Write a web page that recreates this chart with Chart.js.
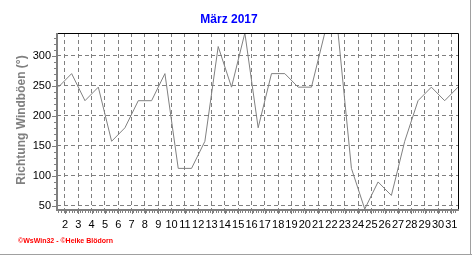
<!DOCTYPE html>
<html>
<head>
<meta charset="utf-8">
<script src="https://cdn.jsdelivr.net/npm/chart.js@4"></script>
<style>
  html, body { margin: 0; padding: 0; background: #fff; }
  #wrap { position: relative; width: 472px; height: 255px; }
</style>
</head>
<body>
<div id="wrap"><canvas id="chart" width="472" height="255"></canvas></div>
<script>
// Tage im März und Richtung der Windböen (Grad)
const days = [1, 2, 3, 4, 5, 6, 7, 8, 9, 10, 11, 12, 13, 14, 15, 16,
              17, 18, 19, 20, 21, 22, 23, 24, 25, 26, 27, 28, 29, 30, 31];
const direction = [247.5, 270, 225, 247.5, 157.5, 180, 225, 225, 270, 112.5, 112.5, 157.5, 315, 247.5, 337.5, 180,
                   270, 270, 247.5, 247.5, 337.5, 337.5, 112.5, 45, 90, 67.5, 157.5, 225, 247.5, 225, 247.5];
const yTicks = [50, 100, 150, 200, 250, 300];
const xTickLabels = ['2', '3', '4', '5', '6', '7', '8', '9', '10', '11', '12', '13', '14', '15', '16',
                     '17', '18', '19', '20', '21', '22', '23', '24', '25', '26', '27', '28', '29', '30', '31'];

const titleText = 'März 2017';
const yTitle = 'Richtung Windböen (°)';
const footer = '©WsWin32 - ©Heike Blödorn';

// Rahmen, Achsen, Nebenstriche und Texte
const decor = {
    id: 'decor',
    beforeDraw(chart) {
        const ctx = chart.ctx;
        ctx.save();
        ctx.strokeStyle = '#a0a0a0';
        ctx.lineWidth = 1;
        ctx.beginPath();
        ctx.moveTo(470.5, 0); ctx.lineTo(470.5, 255);
        ctx.moveTo(0, 254.5); ctx.lineTo(472, 254.5);
        ctx.stroke();
        ctx.restore();
    },
    afterDraw(chart) {
        const ctx = chart.ctx;
        const a = chart.chartArea;
        const x = chart.scales.x, y = chart.scales.y;
        ctx.save();
        // oben / rechts schwarz
        ctx.strokeStyle = '#000';
        ctx.lineWidth = 1;
        ctx.beginPath();
        ctx.moveTo(a.left, a.top + 0.5); ctx.lineTo(a.right + 0.5, a.top + 0.5);
        ctx.lineTo(a.right + 0.5, a.bottom);
        ctx.stroke();
        // Nebenstriche
        ctx.strokeStyle = '#808080';
        ctx.beginPath();
        for (let v = 50; v <= 330; v += 10) {
            const py = Math.round(y.getPixelForValue(v)) + 0.5;
            const len = yTicks.includes(v) ? 4 : 2;
            ctx.moveTo(a.left - len - 1, py); ctx.lineTo(a.left, py);
        }
        for (let d = 1; d <= 31; d += 0.2) {
            const px = Math.round(x.getPixelForValue(d)) + 0.5;
            if (px > a.right) break;
            ctx.moveTo(px, a.bottom); ctx.lineTo(px, a.bottom + 4);
        }
        for (let i = 0; i < xTickLabels.length; i++) {
            const px = Math.round(x.getPixelForValue(days[i] + 0.5)) + 0.5;
            ctx.moveTo(px, a.bottom); ctx.lineTo(px, a.bottom + 5);
        }
        ctx.stroke();
        // dicke graue Achsen links / unten
        ctx.lineWidth = 2;
        ctx.beginPath();
        ctx.moveTo(a.left, a.top); ctx.lineTo(a.left, a.bottom + 1);
        ctx.lineTo(a.right + 1, a.bottom + 1);
        ctx.stroke();
        // y-Titel
        ctx.fillStyle = '#808080';
        ctx.font = 'bold 12px "Liberation Sans", Arial, sans-serif';
        ctx.textAlign = 'center';
        ctx.textBaseline = 'middle';
        ctx.translate(22, 120);
        ctx.rotate(-Math.PI / 2);
        ctx.fillText(yTitle, 0, 0);
        ctx.setTransform(1, 0, 0, 1, 0, 0);
        // Fußzeile
        ctx.fillStyle = '#ff0000';
        ctx.font = 'bold 7px "Liberation Sans", Arial, sans-serif';
        ctx.textAlign = 'left';
        ctx.textBaseline = 'alphabetic';
        ctx.fillText(footer, 18, 243);
        ctx.restore();
    }
};

new Chart(document.getElementById('chart'), {
    type: 'line',
    data: {
        datasets: [{
            data: days.map((d, i) => ({ x: d, y: direction[i] })),
            borderColor: '#808080',
            borderWidth: 1,
            pointRadius: 0,
            tension: 0,
            fill: false
        }]
    },
    options: {
        responsive: false,
        animation: false,
        layout: { padding: { left: 0, right: 14, top: 0, bottom: 0 } },
        plugins: {
            legend: { display: false },
            tooltip: { enabled: false },
            title: {
                display: true,
                text: titleText,
                color: '#0000ff',
                font: { family: '"Liberation Sans", Arial, sans-serif', size: 12, weight: 'bold' },
                padding: { top: 12, bottom: 6.6 }
            }
        },
        scales: {
            x: {
                type: 'linear',
                min: 0.9,
                max: 31,
                afterBuildTicks: s => { s.ticks = xTickLabels.map((l, i) => ({ value: days[i] + 0.5 })); },
                afterFit: s => { s.height = 46; },
                grid: { color: '#808080', lineWidth: 1, drawTicks: false },
                border: { display: false, dash: [4, 3] },
                ticks: {
                    autoSkip: false,
                    maxRotation: 0,
                    padding: 9,
                    color: '#000',
                    font: { family: '"Liberation Sans", Arial, sans-serif', size: 11 },
                    callback: (v, i) => xTickLabels[i]
                }
            },
            y: {
                min: 45,
                max: 337.5,
                afterBuildTicks: s => { s.ticks = yTicks.map(v => ({ value: v })); },
                afterFit: s => { s.width = 57; },
                grid: { color: '#808080', lineWidth: 1, drawTicks: false },
                border: { display: false, dash: [4, 3] },
                ticks: {
                    padding: 6,
                    color: '#000',
                    font: { family: '"Liberation Sans", Arial, sans-serif', size: 11 }
                }
            }
        }
    },
    plugins: [decor]
});
</script>
</body>
</html>
